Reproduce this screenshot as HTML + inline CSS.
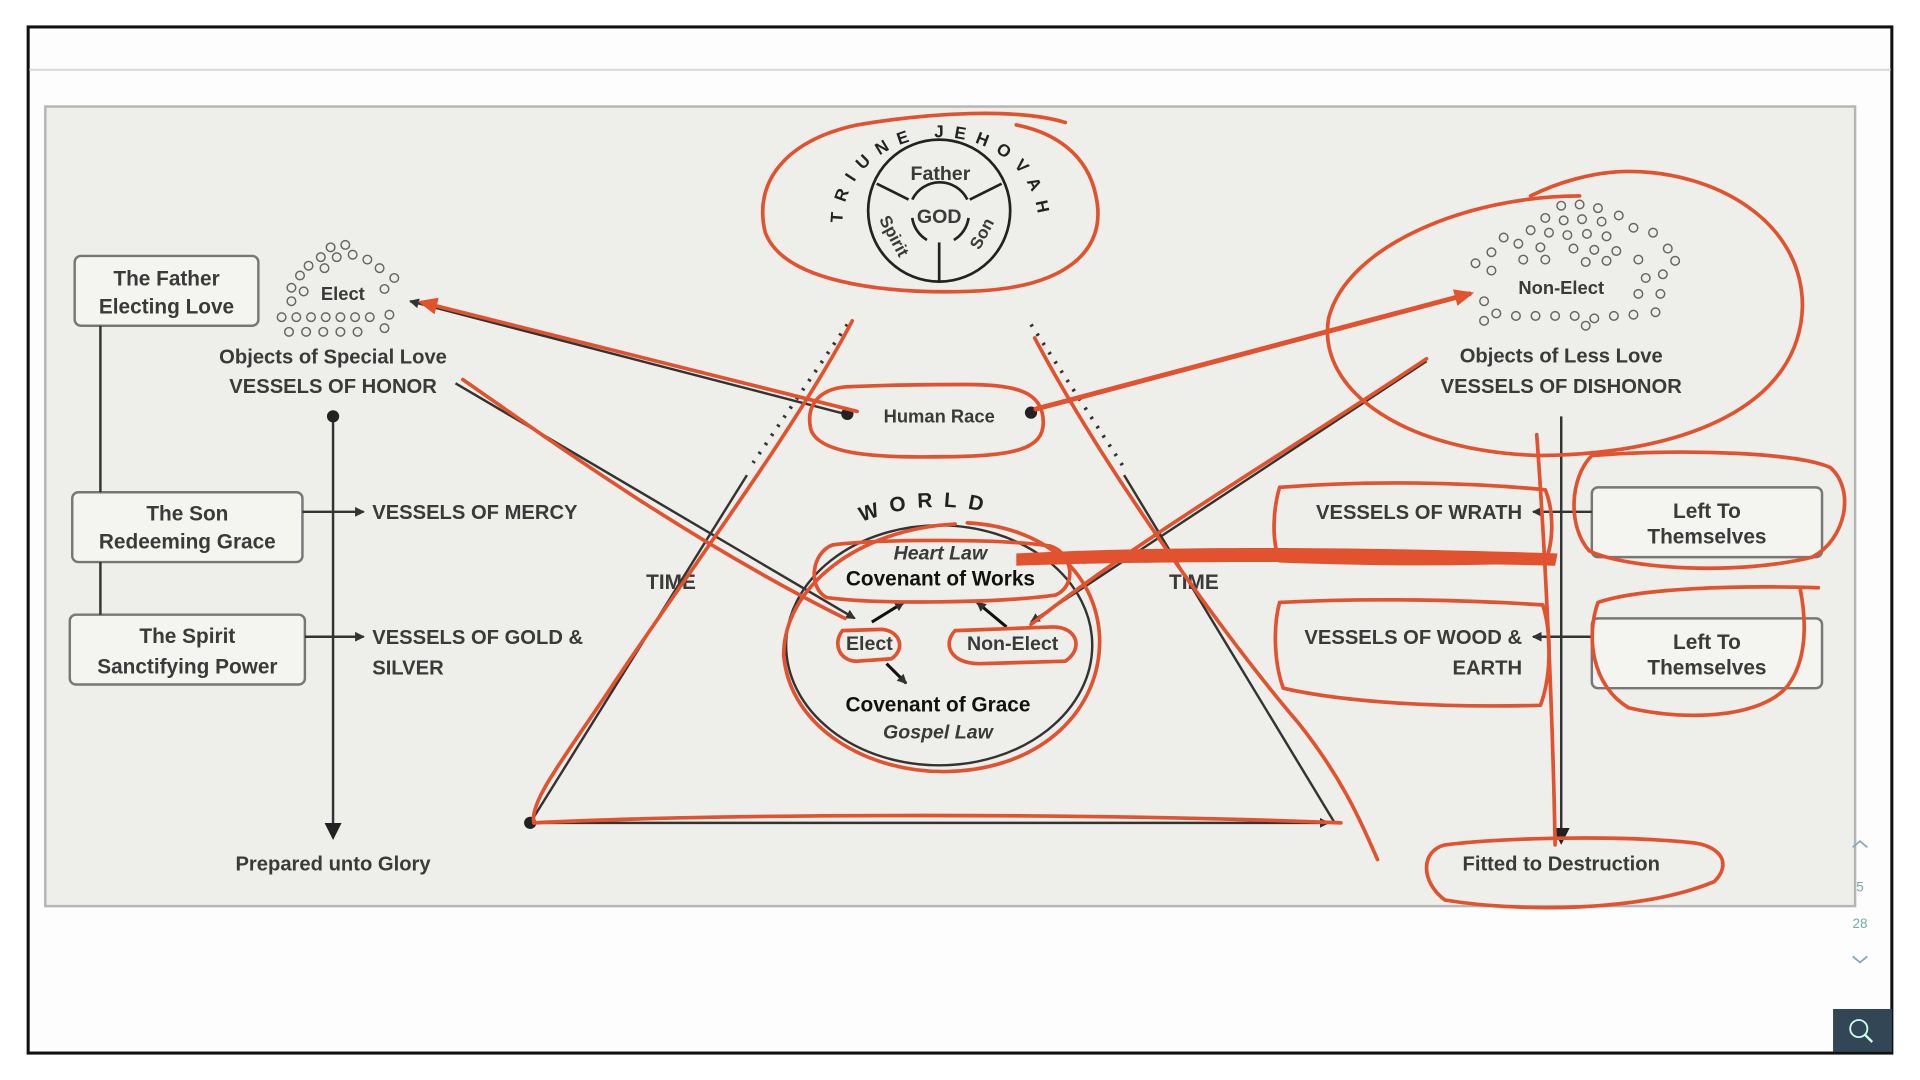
<!DOCTYPE html>
<html><head><meta charset="utf-8"><style>
html,body{margin:0;padding:0;background:#fff;width:1920px;height:1080px;overflow:hidden}
svg{display:block}
text{font-family:"Liberation Sans",sans-serif;fill:#3a3a3a;font-weight:bold}
</style></head><body>
<svg width="1920" height="1080" viewBox="0 0 1568 882" preserveAspectRatio="none" xmlns="http://www.w3.org/2000/svg">
<defs>
<marker id="ah" markerWidth="8" markerHeight="8" refX="7" refY="4" orient="auto" markerUnits="userSpaceOnUse"><path d="M0,0 L8,4 L0,8 z" fill="#333"/></marker>
<marker id="ahb" markerWidth="14" markerHeight="14" refX="12" refY="7" orient="auto" markerUnits="userSpaceOnUse"><path d="M0,0 L14,7 L0,14 z" fill="#222"/></marker>
<marker id="rh" markerWidth="16" markerHeight="14" refX="12" refY="7" orient="auto" markerUnits="userSpaceOnUse"><path d="M0,0 L16,7 L0,14 z" fill="#e2522f"/></marker>
<path id="arcT" d="M688,182 A80,70 0 0 1 848,182"/>
<path id="arcW" d="M700,428 Q767,400 836,428"/>
</defs>
<rect x="0" y="0" width="1568" height="882" fill="#fff"/>
<rect x="23" y="22" width="1522" height="838" fill="#fdfdfd" stroke="#111" stroke-width="2.5"/>
<line x1="24" y1="57" x2="1544" y2="57" stroke="#ddd" stroke-width="2"/>
<rect x="37" y="87" width="1478" height="653" fill="#eeeeea" stroke="#b5b5b5" stroke-width="2"/>
<rect x="1497" y="824" width="48" height="35" fill="#334655"/>
<circle cx="1518" cy="840" r="7" fill="none" stroke="#cfe" stroke-width="1.5"/>
<line x1="1523" y1="845" x2="1529" y2="851" stroke="#cfe" stroke-width="2"/>
<text x="1519" y="728" font-size="11" text-anchor="middle" style="fill:#7aa;font-weight:normal">5</text>
<text x="1519" y="758" font-size="11" text-anchor="middle" style="fill:#7aa;font-weight:normal">28</text>
<path d="M1513,692 l6,-5 l6,5 M1513,781 l6,5 l6,-5" stroke="#8ab" fill="none" stroke-width="1.5"/>

<g fill="#f4f4f1" stroke="#777" stroke-width="2">
<rect x="61" y="209" width="150" height="57" rx="5"/>
<rect x="59" y="402" width="188" height="57" rx="5"/>
<rect x="57" y="502" width="192" height="57" rx="5"/>
<rect x="1300" y="398" width="188" height="57" rx="5"/>
<rect x="1300" y="505" width="188" height="57" rx="5"/>
</g>
<g font-size="17" text-anchor="middle">
<text x="136" y="233">The Father</text><text x="136" y="256">Electing Love</text>
<text x="153" y="425">The Son</text><text x="153" y="448">Redeeming Grace</text>
<text x="153" y="525">The Spirit</text><text x="153" y="550">Sanctifying Power</text>
<text x="1394" y="423">Left To</text><text x="1394" y="444">Themselves</text>
<text x="1394" y="530">Left To</text><text x="1394" y="551">Themselves</text>
</g>
<g stroke="#333" stroke-width="2" fill="none">
<line x1="82" y1="266" x2="82" y2="402"/>
<line x1="82" y1="459" x2="82" y2="502"/>
<line x1="247" y1="418" x2="297" y2="418" marker-end="url(#ah)"/>
<line x1="249" y1="520" x2="297" y2="520" marker-end="url(#ah)"/>
<line x1="272" y1="340" x2="272" y2="684" marker-end="url(#ahb)"/>
<line x1="1275" y1="340" x2="1275" y2="688" marker-end="url(#ahb)"/>
<line x1="1300" y1="418" x2="1252" y2="418" marker-end="url(#ah)"/>
<line x1="1300" y1="520" x2="1252" y2="520" marker-end="url(#ah)"/>
</g>
<circle cx="272" cy="340" r="5" fill="#222"/>
<g font-size="16.5">
<text x="304" y="424">VESSELS OF MERCY</text>
<text x="304" y="526">VESSELS OF GOLD &amp;</text>
<text x="304" y="551">SILVER</text>
<text x="272" y="297" text-anchor="middle">Objects of Special Love</text>
<text x="272" y="321" text-anchor="middle">VESSELS OF HONOR</text>
<text x="272" y="711" text-anchor="middle">Prepared unto Glory</text>
<text x="1275" y="296" text-anchor="middle">Objects of Less Love</text>
<text x="1275" y="321" text-anchor="middle">VESSELS OF DISHONOR</text>
<text x="1243" y="424" text-anchor="end">VESSELS OF WRATH</text>
<text x="1243" y="526" text-anchor="end">VESSELS OF WOOD &amp;</text>
<text x="1243" y="551" text-anchor="end">EARTH</text>
<text x="1275" y="711" text-anchor="middle">Fitted to Destruction</text>
</g>
<g fill="none" stroke="#666" stroke-width="1.2">
<circle cx="270" cy="202" r="3.5"/><circle cx="282" cy="200" r="3.5"/><circle cx="262" cy="210" r="3.5"/><circle cx="275" cy="210" r="3.5"/><circle cx="288" cy="208" r="3.5"/><circle cx="300" cy="212" r="3.5"/><circle cx="252" cy="217" r="3.5"/><circle cx="265" cy="219" r="3.5"/><circle cx="310" cy="219" r="3.5"/><circle cx="245" cy="225" r="3.5"/><circle cx="322" cy="227" r="3.5"/><circle cx="238" cy="235" r="3.5"/><circle cx="248" cy="238" r="3.5"/><circle cx="314" cy="236" r="3.5"/><circle cx="238" cy="246" r="3.5"/><circle cx="230" cy="259" r="3.5"/><circle cx="242" cy="259" r="3.5"/><circle cx="254" cy="259" r="3.5"/><circle cx="266" cy="259" r="3.5"/><circle cx="278" cy="259" r="3.5"/><circle cx="290" cy="259" r="3.5"/><circle cx="302" cy="259" r="3.5"/><circle cx="318" cy="257" r="3.5"/><circle cx="236" cy="271" r="3.5"/><circle cx="250" cy="271" r="3.5"/><circle cx="264" cy="271" r="3.5"/><circle cx="278" cy="271" r="3.5"/><circle cx="292" cy="271" r="3.5"/><circle cx="314" cy="268" r="3.5"/>
</g>
<text x="280" y="245" font-size="15" text-anchor="middle">Elect</text>
<g fill="none" stroke="#666" stroke-width="1.2">
<circle cx="1275" cy="168" r="3.5"/><circle cx="1290" cy="167" r="3.5"/><circle cx="1305" cy="170" r="3.5"/><circle cx="1262" cy="178" r="3.5"/><circle cx="1277" cy="180" r="3.5"/><circle cx="1292" cy="179" r="3.5"/><circle cx="1308" cy="181" r="3.5"/><circle cx="1322" cy="176" r="3.5"/><circle cx="1250" cy="188" r="3.5"/><circle cx="1265" cy="190" r="3.5"/><circle cx="1280" cy="192" r="3.5"/><circle cx="1296" cy="191" r="3.5"/><circle cx="1312" cy="193" r="3.5"/><circle cx="1334" cy="186" r="3.5"/><circle cx="1228" cy="194" r="3.5"/><circle cx="1240" cy="199" r="3.5"/><circle cx="1258" cy="202" r="3.5"/><circle cx="1285" cy="203" r="3.5"/><circle cx="1302" cy="204" r="3.5"/><circle cx="1320" cy="205" r="3.5"/><circle cx="1350" cy="190" r="3.5"/><circle cx="1218" cy="206" r="3.5"/><circle cx="1244" cy="212" r="3.5"/><circle cx="1262" cy="212" r="3.5"/><circle cx="1295" cy="214" r="3.5"/><circle cx="1312" cy="213" r="3.5"/><circle cx="1338" cy="212" r="3.5"/><circle cx="1362" cy="203" r="3.5"/><circle cx="1205" cy="215" r="3.5"/><circle cx="1218" cy="221" r="3.5"/><circle cx="1344" cy="227" r="3.5"/><circle cx="1358" cy="224" r="3.5"/><circle cx="1368" cy="213" r="3.5"/><circle cx="1338" cy="240" r="3.5"/><circle cx="1356" cy="240" r="3.5"/><circle cx="1212" cy="246" r="3.5"/><circle cx="1222" cy="256" r="3.5"/><circle cx="1238" cy="258" r="3.5"/><circle cx="1254" cy="258" r="3.5"/><circle cx="1270" cy="258" r="3.5"/><circle cx="1286" cy="258" r="3.5"/><circle cx="1302" cy="260" r="3.5"/><circle cx="1318" cy="258" r="3.5"/><circle cx="1334" cy="257" r="3.5"/><circle cx="1352" cy="255" r="3.5"/><circle cx="1212" cy="262" r="3.5"/><circle cx="1295" cy="266" r="3.5"/>
</g>
<text x="1275" y="240" font-size="15" text-anchor="middle">Non-Elect</text>

<g stroke="#222" stroke-width="2.2" fill="none">
<circle cx="767" cy="172" r="58"/>
<path d="M745,163 A25,25 0 0 1 790,163"/>
<path d="M745,178 A25,25 0 0 0 757,196"/>
<path d="M779,196 A25,25 0 0 0 791,178"/>
<line x1="716" y1="150" x2="742" y2="163"/>
<line x1="818" y1="150" x2="792" y2="163"/>
<line x1="767" y1="198" x2="767" y2="230"/>
</g>
<text font-size="14" style="fill:#222"><textPath href="#arcT" textLength="228" lengthAdjust="spacing">TRIUNE   JEHOVAH</textPath></text>
<text x="768" y="147" font-size="16" text-anchor="middle">Father</text>
<text x="767" y="182" font-size="16" text-anchor="middle">GOD</text>
<text x="726" y="195" font-size="14" text-anchor="middle" transform="rotate(62 726 195)">Spirit</text>
<text x="806" y="193" font-size="14" text-anchor="middle" transform="rotate(-62 806 193)">Son</text>

<g stroke="#333" stroke-width="2" fill="none">
<line x1="692" y1="265" x2="615" y2="378" stroke-dasharray="2,7" stroke-width="3"/>
<line x1="842" y1="265" x2="918" y2="382" stroke-dasharray="2,7" stroke-width="3"/>
<line x1="610" y1="388" x2="433" y2="672"/>
<line x1="918" y1="388" x2="1090" y2="672"/>
<line x1="433" y1="672" x2="1085" y2="672" marker-end="url(#ah)"/>
<line x1="690" y1="338" x2="335" y2="246" marker-end="url(#ah)"/>
<line x1="842" y1="336" x2="1200" y2="240" marker-end="url(#ah)"/>
<line x1="372" y1="313" x2="698" y2="505" marker-end="url(#ah)"/>
<line x1="1165" y1="295" x2="842" y2="508" marker-end="url(#ah)"/>
<ellipse cx="767" cy="527" rx="125" ry="98"/>
</g>
<circle cx="692" cy="338" r="5" fill="#222"/><circle cx="842" cy="337" r="5" fill="#222"/><circle cx="433" cy="672" r="5" fill="#222"/>
<text x="767" y="345" font-size="15" text-anchor="middle">Human Race</text>
<text x="548" y="481" font-size="17" text-anchor="middle">TIME</text>
<text x="975" y="481" font-size="17" text-anchor="middle">TIME</text>
<text font-size="17" letter-spacing="9" style="fill:#222"><textPath href="#arcW" startOffset="4">WORLD</textPath></text>
<text x="768" y="457" font-size="16" text-anchor="middle" font-style="italic">Heart Law</text>
<text x="768" y="478" font-size="17" text-anchor="middle" style="fill:#111">Covenant of Works</text>
<text x="710" y="531" font-size="16" text-anchor="middle">Elect</text>
<text x="827" y="531" font-size="16" text-anchor="middle">Non-Elect</text>
<text x="766" y="581" font-size="17" text-anchor="middle" style="fill:#111">Covenant of Grace</text>
<text x="766" y="603" font-size="16" text-anchor="middle" font-style="italic">Gospel Law</text>
<g stroke="#111" stroke-width="2.5">
<line x1="712" y1="508" x2="738" y2="492" marker-end="url(#ah)"/>
<line x1="822" y1="512" x2="798" y2="492" marker-end="url(#ah)"/>
<line x1="724" y1="542" x2="740" y2="558" marker-end="url(#ah)"/>
</g>

<g stroke="#e2522f" stroke-width="3" fill="none" stroke-linecap="round" stroke-linejoin="round">
<path d="M870,100 C830,88 760,92 700,102 C640,115 615,150 625,190 C640,230 720,240 790,238 C870,236 905,205 895,160 C888,125 860,108 830,102"/>
<path d="M690,316 C670,318 658,330 662,350 C668,372 720,374 770,373 C830,373 852,366 852,345 C852,320 830,314 790,314 C750,314 710,315 690,316"/>
<path d="M700,336 L345,247" marker-end="url(#rh)"/>
<path d="M846,334 L1200,240" marker-end="url(#rh)" stroke-width="4"/>
<path d="M378,310 C450,360 560,440 690,505"/>
<path d="M1165,293 C1050,370 930,440 842,510"/>
<path d="M696,262 C650,350 560,470 500,560 C460,620 432,655 436,672"/>
<path d="M436,672 C600,664 900,664 1095,672"/>
<path d="M845,276 C900,380 1000,520 1060,590 C1100,640 1115,680 1125,702"/>
<path d="M780,428 C700,432 640,480 640,535 C645,595 710,632 775,630 C850,628 900,580 898,520 C895,465 850,430 790,427"/>
<path d="M680,445 C662,452 660,480 675,488 C720,494 820,492 862,486 C880,478 876,452 858,446 C820,440 720,440 680,445"/>
<path d="M688,515 C680,525 685,540 700,540 L728,538 C740,530 735,515 720,514 Z"/>
<path d="M780,515 C770,525 775,542 800,542 L870,540 C885,530 880,512 860,512 Z"/>
<path d="M1290,160 C1200,160 1100,200 1085,260 C1075,320 1150,370 1260,372 C1380,370 1470,330 1472,250 C1472,180 1400,140 1330,140 C1300,140 1270,150 1250,160"/>
<path d="M1045,398 C1120,392 1200,394 1262,400 C1270,420 1268,445 1262,458 C1180,462 1100,460 1045,458 C1038,440 1040,415 1045,398"/>
<path d="M1045,492 C1120,488 1200,490 1260,494 C1268,520 1266,555 1258,576 C1180,578 1100,574 1048,562 C1040,540 1040,510 1045,492"/>
<path d="M1300,372 C1380,366 1470,370 1495,382 C1515,400 1508,440 1480,455 C1420,470 1330,465 1298,450 C1280,430 1282,390 1300,372"/>
<path d="M1485,480 C1420,478 1340,480 1305,492 C1295,520 1300,560 1330,578 C1380,590 1440,585 1460,560 C1475,540 1476,510 1470,480"/>
<path d="M1255,355 C1262,450 1268,580 1270,690"/>
<path d="M1180,690 C1160,695 1160,720 1180,735 C1240,745 1340,745 1400,720 C1415,705 1405,690 1380,688 C1320,682 1230,684 1180,690"/>
</g>
<path d="M830,452 C950,446 1100,446 1272,452 L1270,462 C1100,458 950,458 830,462 Z" fill="#e2522f"/>
</svg>
</body></html>
